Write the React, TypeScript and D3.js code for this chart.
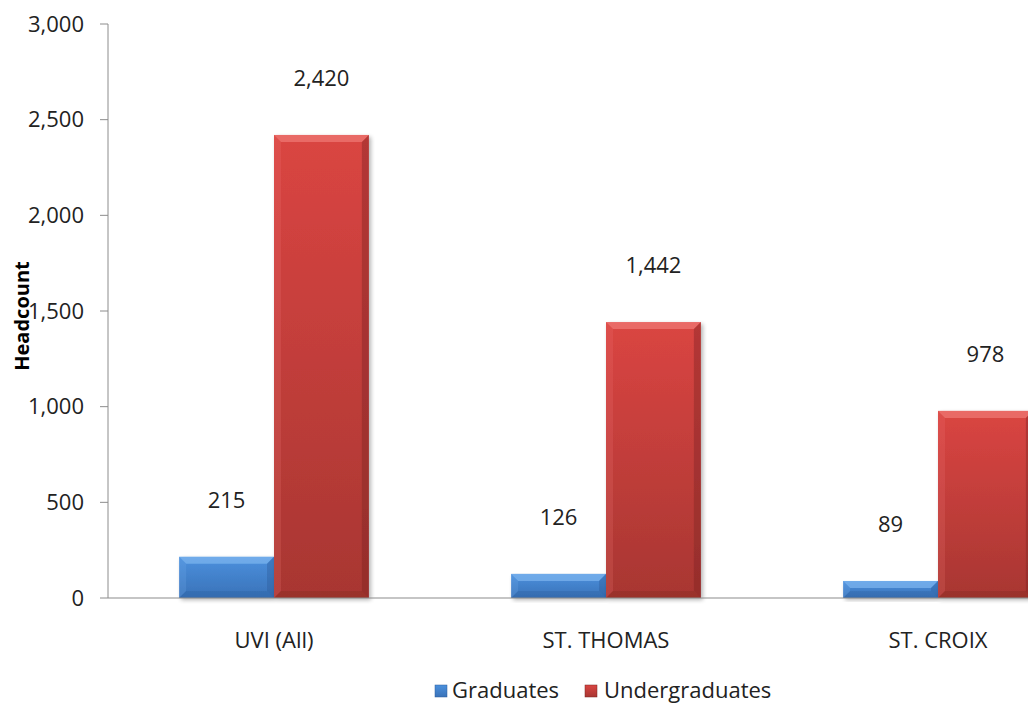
import React from "react";
import * as d3 from "d3";

const categories = ["UVI (All)", "ST. THOMAS", "ST. CROIX"];
const seriesNames = ["Graduates", "Undergraduates"];
const graduates = [215, 126, 89];
const undergraduates = [2420, 1442, 978];
const yTicks = [0, 500, 1000, 1500, 2000, 2500, 3000];

const W = 1028;
const H = 706;
const FONT = "'Open Sans', 'Noto Sans', sans-serif";

export default function App() {
  const left = 108;
  const y = d3.scaleLinear().domain([0, 3000]).range([598, 24]);
  const x0 = d3.scaleBand().domain(categories).range([left, left + 996]).paddingInner(0).paddingOuter(0);
  const x1 = d3
    .scaleBand()
    .domain(seriesNames)
    .range([0, x0.bandwidth()])
    .paddingInner(0)
    .paddingOuter(0.75);
  const fmt = d3.format(",");
  const series = [
    { name: seriesNames[0], values: graduates, grad: "gBlue", light: "#7fb6f0", dark: "#2c5d9a" },
    { name: seriesNames[1], values: undergraduates, grad: "gRed", light: "#f07a76", dark: "#7a2422" },
  ];
  const bw = x1.bandwidth();
  const bev = 7;

  return (
    <svg width={W} height={H} style={{ position: "absolute", left: 0, top: 0, background: "#fff" }} fontFamily={FONT}>
      <defs>
        <linearGradient id="gBlue" x1="0" y1="0" x2="0" y2="1">
          <stop offset="0" stopColor="#4b90dd" />
          <stop offset="1" stopColor="#3a72b8" />
        </linearGradient>
        <linearGradient id="gRed" x1="0" y1="0" x2="0" y2="1">
          <stop offset="0" stopColor="#da4542" />
          <stop offset="1" stopColor="#a83632" />
        </linearGradient>
        <filter id="shadow" x="-10%" y="-10%" width="130%" height="130%">
          <feGaussianBlur in="SourceAlpha" stdDeviation="2" />
          <feOffset dx="2" dy="2" />
          <feComponentTransfer>
            <feFuncA type="linear" slope="0.3" />
          </feComponentTransfer>
          <feMerge>
            <feMergeNode />
            <feMergeNode in="SourceGraphic" />
          </feMerge>
        </filter>
      </defs>

      {/* y axis */}
      <line x1={left} x2={left} y1={y(3000)} y2={y(0)} stroke="#8c8c8c" strokeWidth={1} />
      {yTicks.map((t) => (
        <g key={t}>
          <line x1={left - 8} x2={left} y1={y(t)} y2={y(t)} stroke="#8c8c8c" />
          <text x={84} y={y(t)} dy="0.35em" textAnchor="end" fontSize={22} fill="#222">
            {fmt(t)}
          </text>
        </g>
      ))}
      <text
        transform={`translate(29,${316}) rotate(-90)`}
        textAnchor="middle"
        fontSize={20}
        fontWeight="bold"
        fill="#000"
      >
        Headcount
      </text>

      {/* bars */}
      {categories.map((c, ci) => (
        <g key={c} transform={`translate(${x0(c)},0)`}>
          {series.map((s) => {
            const bx = x1(s.name)!;
            const v = s.values[ci];
            const top = y(v);
            const bot = y(0);
            const h = bot - top;
            const b = Math.min(bev, h / 2);
            return (
              <g key={s.name} filter="url(#shadow)">
                <rect x={bx} y={top} width={bw} height={h} fill={`url(#${s.grad})`} />
                <polygon
                  points={`${bx},${top} ${bx + bw},${top} ${bx + bw - b},${top + b} ${bx + b},${top + b}`}
                  fill={s.light}
                  opacity={0.7}
                />
                <polygon
                  points={`${bx},${top} ${bx + b},${top + b} ${bx + b},${bot - b} ${bx},${bot}`}
                  fill={s.light}
                  opacity={0.2}
                />
                <polygon
                  points={`${bx + bw},${top} ${bx + bw},${bot} ${bx + bw - b},${bot - b} ${bx + bw - b},${top + b}`}
                  fill={s.dark}
                  opacity={0.4}
                />
                <polygon
                  points={`${bx},${bot} ${bx + bw},${bot} ${bx + bw - b},${bot - b} ${bx + b},${bot - b}`}
                  fill={s.dark}
                  opacity={0.3}
                />
              </g>
            );
          })}
        </g>
      ))}

      {/* x axis */}
      <line x1={left} x2={W} y1={y(0)} y2={y(0)} stroke="#8c8c8c" strokeWidth={1.2} />

      {/* value labels */}
      {categories.map((c, ci) =>
        series.map((s) => (
          <text
            key={c + s.name}
            x={x0(c)! + x1(s.name)! + bw / 2}
            y={y(s.values[ci]) - 57}
            dy="0.35em"
            textAnchor="middle"
            fontSize={22}
            fill="#222"
          >
            {fmt(s.values[ci])}
          </text>
        ))
      )}

      {categories.map((c) => (
        <text key={c} x={x0(c)! + x0.bandwidth() / 2} y={640} dy="0.35em" textAnchor="middle" fontSize={22} fill="#222">
          {c}
        </text>
      ))}

      {/* legend */}
      <g>
        <rect x={435} y={685} width={12} height={12} fill="url(#gBlue)" stroke="#2c5d9a" strokeWidth={0.5} />
        <text x={452} y={690} dy="0.35em" fontSize={22} fill="#222">
          {seriesNames[0]}
        </text>
        <rect x={585} y={685} width={12} height={12} fill="url(#gRed)" stroke="#7a2422" strokeWidth={0.5} />
        <text x={604} y={690} dy="0.35em" fontSize={22} fill="#222">
          {seriesNames[1]}
        </text>
      </g>
    </svg>
  );
}
